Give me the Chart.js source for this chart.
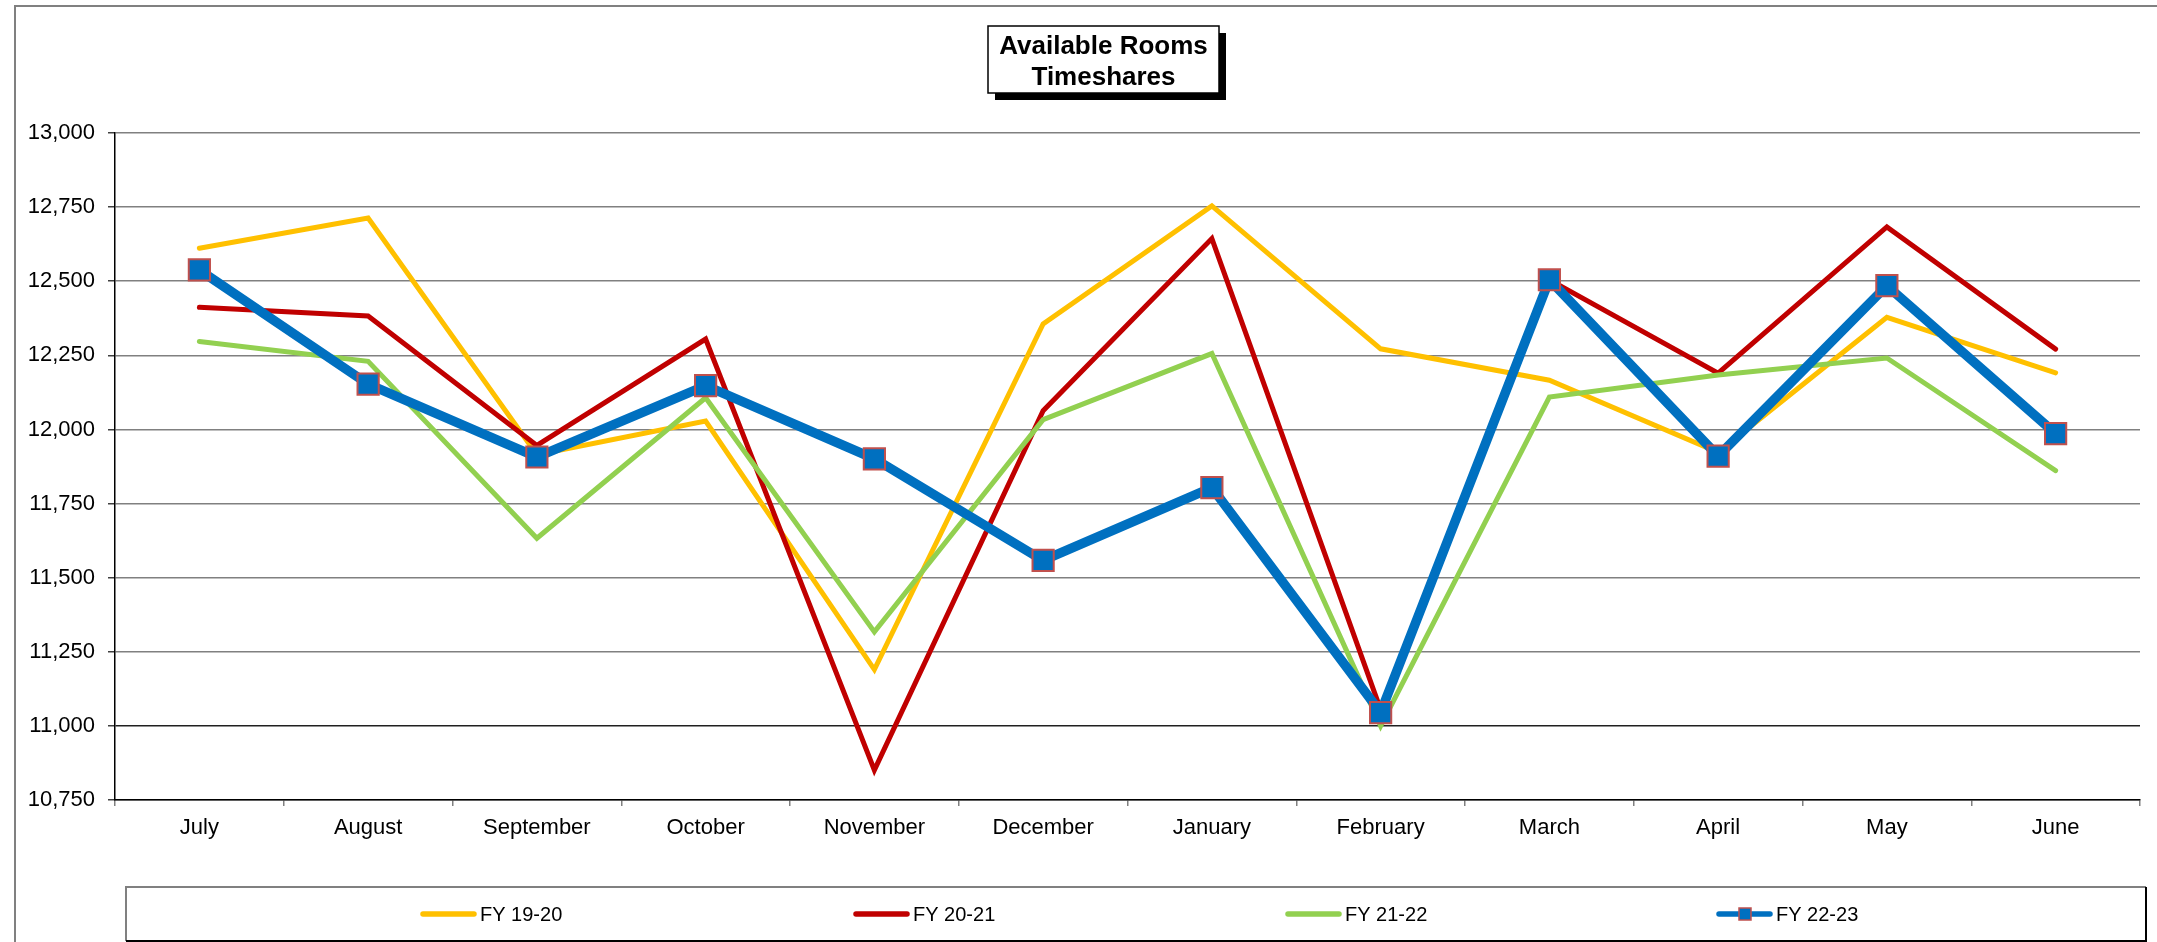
<!DOCTYPE html>
<html>
<head>
<meta charset="utf-8">
<title>Available Rooms Timeshares</title>
<script src="https://cdn.jsdelivr.net/npm/chart.js@4"></script>
<style>
  html, body { margin: 0; padding: 0; background: #fff; }
  #chart { display: block; }
</style>
</head>
<body>
<canvas id="chart" width="2157" height="942"></canvas>
<script>
// Données
const months = ['July', 'August', 'September', 'October', 'November', 'December',
  'January', 'February', 'March', 'April', 'May', 'June'];
const fy1920 = [12611, 12713, 11915, 12028, 11190, 12356, 12754, 12272, 12166, 11923, 12378, 12191];
const fy2021 = [12412, 12383, 11946, 12305, 10851, 12063, 12644, 11055, 12505, 12190, 12683, 12271];
const fy2122 = [12297, 12230, 11633, 12107, 11317, 12033, 12256, 11000, 12109, 12184, 12241, 11861];
const fy2223 = [12538, 12153, 11907, 12148, 11901, 11558, 11804, 11045, 12505, 11910, 12485, 11986];
const yTicks = [10750, 11000, 11250, 11500, 11750, 12000, 12250, 12500, 12750, 13000];
const seriesNames = ['FY 19-20', 'FY 20-21', 'FY 21-22', 'FY 22-23'];
const titleLines = ['Available Rooms', 'Timeshares'];

const FONT = '"Liberation Sans", Arial, sans-serif';
const colors = ['#FFC000', '#C00000', '#92D050', '#0070C0'];
const markerBorder = '#C0504D';

// Cadre extérieur + titre encadré avec ombre
const framePlugin = {
  id: 'frame',
  beforeDraw(chart) {
    const ctx = chart.ctx;
    ctx.save();
    ctx.fillStyle = '#fff';
    ctx.fillRect(0, 0, chart.width, chart.height);
    ctx.strokeStyle = '#808080';
    ctx.lineWidth = 2;
    ctx.beginPath();
    ctx.moveTo(15, chart.height);
    ctx.lineTo(15, 6);
    ctx.lineTo(chart.width, 6);
    ctx.stroke();
    ctx.restore();
  },
  afterDraw(chart) {
    const ctx = chart.ctx;
    ctx.save();
    // titre
    const bx = 988, by = 26, bw = 231, bh = 67;
    ctx.fillStyle = '#000';
    ctx.fillRect(bx + 7, by + 7, bw, bh);
    ctx.fillStyle = '#fff';
    ctx.fillRect(bx, by, bw, bh);
    ctx.strokeStyle = '#000';
    ctx.lineWidth = 1.5;
    ctx.strokeRect(bx, by, bw, bh);
    ctx.fillStyle = '#000';
    ctx.font = 'bold 26px ' + FONT;
    ctx.textAlign = 'center';
    ctx.textBaseline = 'alphabetic';
    ctx.fillText(titleLines[0], bx + bw / 2, 54);
    ctx.fillText(titleLines[1], bx + bw / 2, 85);

    // légende encadrée
    const lx = 126, ly = 887, lw = 2020, lh = 54;
    ctx.lineWidth = 2;
    ctx.strokeStyle = '#808080';
    ctx.beginPath();
    ctx.moveTo(lx, ly + lh);
    ctx.lineTo(lx, ly);
    ctx.lineTo(lx + lw, ly);
    ctx.stroke();
    ctx.strokeStyle = '#000';
    ctx.beginPath();
    ctx.moveTo(lx + lw, ly);
    ctx.lineTo(lx + lw, ly + lh);
    ctx.lineTo(lx, ly + lh);
    ctx.stroke();

    const starts = [421, 854, 1286, 1717];
    const cy = 914;
    ctx.font = '20px ' + FONT;
    ctx.textAlign = 'left';
    ctx.textBaseline = 'middle';
    seriesNames.forEach((name, i) => {
      const x0 = starts[i];
      ctx.strokeStyle = colors[i];
      ctx.lineWidth = 5.5;
      ctx.lineCap = 'round';
      ctx.beginPath();
      ctx.moveTo(x0 + 2, cy);
      ctx.lineTo(x0 + 53, cy);
      ctx.stroke();
      if (i === 3) {
        ctx.fillStyle = colors[3];
        ctx.fillRect(x0 + 22, cy - 6, 12, 12);
        ctx.strokeStyle = markerBorder;
        ctx.lineWidth = 1.5;
        ctx.strokeRect(x0 + 22, cy - 6, 12, 12);
      }
      ctx.fillStyle = '#000';
      ctx.fillText(name, x0 + 59, cy + 1);
    });
    ctx.restore();
  }
};

function lineSet(label, data, i, extra) {
  return Object.assign({
    label: label,
    data: data,
    borderColor: colors[i],
    backgroundColor: colors[i],
    borderWidth: 5,
    pointRadius: 0,
    pointHoverRadius: 0,
    tension: 0,
    fill: false,
    borderJoinStyle: 'miter',
    borderCapStyle: 'round',
    order: 4 - i
  }, extra || {});
}

const ctx = document.getElementById('chart').getContext('2d');
new Chart(ctx, {
  type: 'line',
  data: {
    labels: months,
    datasets: [
      lineSet(seriesNames[0], fy1920, 0),
      lineSet(seriesNames[1], fy2021, 1),
      lineSet(seriesNames[2], fy2122, 2),
      lineSet(seriesNames[3], fy2223, 3, {
        borderWidth: 9.5,
        pointStyle: 'rect',
        pointRadius: 15,
        pointBorderWidth: 2,
        pointBackgroundColor: colors[3],
        pointBorderColor: markerBorder,
        order: 0
      })
    ]
  },
  options: {
    responsive: false,
    devicePixelRatio: 1,
    animation: false,
    layout: { padding: { top: 133, right: 8, left: 0, bottom: 0 } },
    plugins: {
      legend: { display: false },
      title: { display: false },
      tooltip: { enabled: false }
    },
    scales: {
      x: {
        offset: true,
        grid: {
          offset: true,
          drawOnChartArea: false,
          drawTicks: true,
          tickLength: 6,
          color: '#808080',
          lineWidth: 1.5
        },
        border: { color: '#000', width: 1.5 },
        ticks: {
          font: { family: FONT, size: 22 },
          color: '#000',
          padding: 9,
          maxRotation: 0,
          autoSkip: false
        },
        afterFit: (scale) => { scale.height = 142; }
      },
      y: {
        min: yTicks[0],
        max: yTicks[yTicks.length - 1],
        afterBuildTicks: (scale) => { scale.ticks = yTicks.map(v => ({ value: v })); },
        grid: {
          color: (c) => (c.tick && c.tick.value === 11000 ? '#202020' : '#808080'),
          lineWidth: 1.5,
          tickLength: 7,
          tickColor: '#404040'
        },
        border: { color: '#000', width: 1.5 },
        ticks: {
          font: { family: FONT, size: 22 },
          color: '#000',
          padding: 13,
          callback: (v) => Number(v).toLocaleString('en-US')
        },
        afterFit: (scale) => { scale.width = 115; }
      }
    }
  },
  plugins: [framePlugin]
});
</script>
</body>
</html>
